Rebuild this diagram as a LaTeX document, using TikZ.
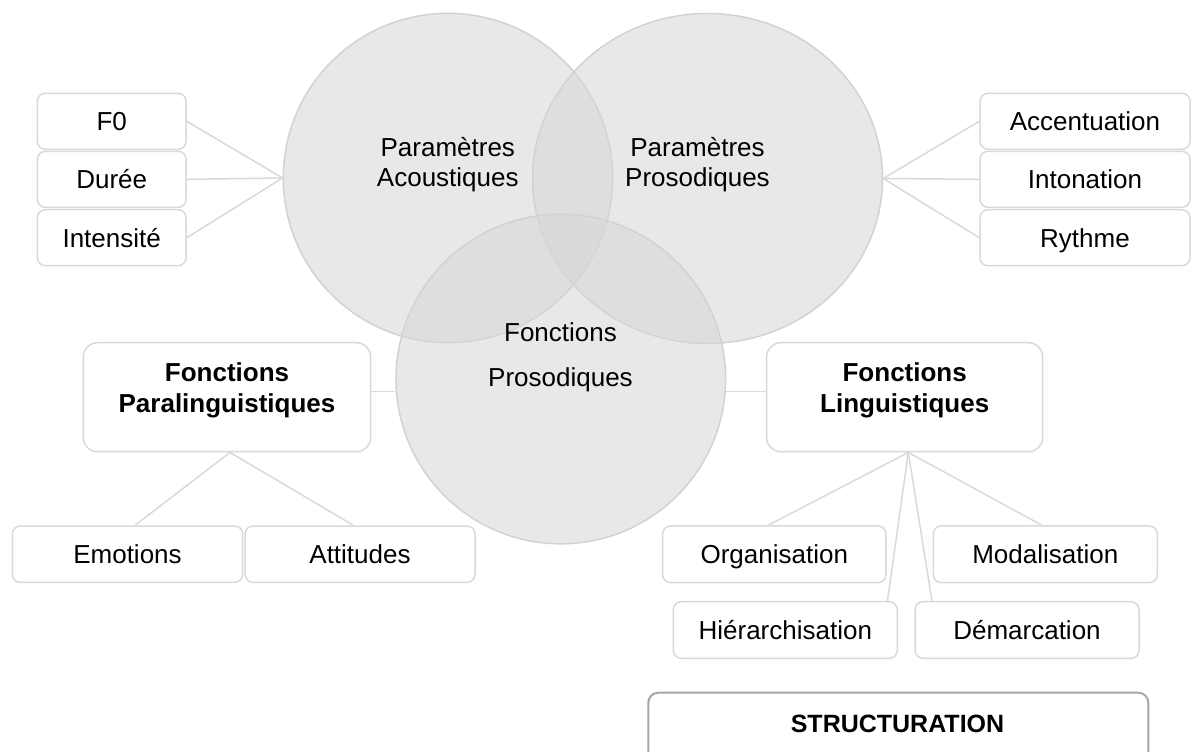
\documentclass[tikz,border=0pt]{standalone}
\usepackage{fontspec}
\setmainfont{Liberation Sans}
\usetikzlibrary{shapes.geometric}
\definecolor{lineg}{HTML}{D9D9D9}
\definecolor{circfill}{HTML}{D6D6D6}
\definecolor{circdraw}{HTML}{D2D2D2}
\definecolor{structg}{HTML}{A6A6A6}
\begin{document}
\begin{tikzpicture}[x=1pt,y=-1pt,
  smallbox/.style={draw=lineg, line width=1.5pt, rounded corners=8pt, minimum height=56pt,
    inner sep=0pt, text height=18.6pt, text depth=0pt, font=\fontsize{26}{30}\selectfont},
  bigbox/.style={draw=lineg, line width=1.5pt, rounded corners=14pt, minimum height=109pt, inner sep=0pt},
  boldtxt/.style={font=\bfseries\fontsize{26}{31}\selectfont, align=center, inner sep=0pt},
  circtxt/.style={font=\fontsize{26}{30.7}\selectfont, align=center, inner sep=0pt},
  conn/.style={draw=lineg, line width=1.5pt},
  venn/.style={fill=circfill, fill opacity=0.55, draw=circdraw, line width=1.5pt, inner sep=0pt},
]
\useasboundingbox (0,0) rectangle (1192,752);

% Venn circles
\node[venn, circle, minimum size=329.4pt] (ac) at (448,178) {};
\node[venn, ellipse, minimum width=350pt, minimum height=330pt] (pp) at (707.5,178.5) {};
\node[venn, circle, minimum size=329.6pt] (fp) at (560.8,379) {};

\node[circtxt] (acl) at (447.8,164.5) {Paramètres\\Acoustiques};
\node[circtxt] (ppl) at (697.5,164.5) {Paramètres\\Prosodiques};
\node[circtxt, font=\fontsize{26}{45}\selectfont] (fpt) at (560.5,357.7) {Fonctions\\Prosodiques};

% left small boxes
\node[smallbox, minimum width=148.7pt] (f0) at (111.7,121.3) {F0};
\node[smallbox, minimum width=148.7pt] (dur) at (111.7,179.3) {Durée};
\node[smallbox, minimum width=148.7pt] (int) at (111.7,237.7) {Intensité};

% right small boxes
\node[smallbox, minimum width=210pt] (acc) at (1085,121.3) {Accentuation};
\node[smallbox, minimum width=210pt] (ton) at (1085,179.3) {Intonation};
\node[smallbox, minimum width=210pt] (ryt) at (1085,237.7) {Rythme};

% big boxes
\node[bigbox, minimum width=287.4pt] (fpl) at (227,397.2) {};
\node[boldtxt] (fplt) at (227,390.7) {Fonctions\\Paralinguistiques};
\node[bigbox, minimum width=276pt] (fl) at (904.7,397.2) {};
\node[boldtxt] (flt) at (904.7,390.7) {Fonctions\\Linguistiques};

% bottom-left boxes
\node[smallbox, minimum width=230.4pt, minimum height=56.3pt] (emo) at (127.5,554.2) {Emotions};
\node[smallbox, minimum width=230pt, minimum height=56.3pt] (att) at (360,554.2) {Attitudes};

% bottom-right boxes
\node[smallbox, minimum width=223.3pt, minimum height=56.7pt] (org) at (774.3,554.3) {Organisation};
\node[smallbox, minimum width=224pt, minimum height=56.7pt] (mod) at (1045.3,554.3) {Modalisation};
\node[smallbox, minimum width=224pt, minimum height=56.6pt] (hie) at (785.3,630) {Hiérarchisation};
\node[smallbox, minimum width=224pt, minimum height=56.6pt] (dem) at (1027,630) {Démarcation};

% connectors
\draw[conn] (f0.east) -- (ac.west);
\draw[conn] (dur.east) -- (ac.west);
\draw[conn] (int.east) -- (ac.west);
\draw[conn] (pp.east) -- (acc.west);
\draw[conn] (pp.east) -- (ton.west);
\draw[conn] (pp.east) -- (ryt.west);

\coordinate (pa) at ([yshift=5.5pt]fpl.east);
\draw[conn] (pa) -- (pa -| fp.west);
\coordinate (la) at ([yshift=5.5pt]fl.west);
\draw[conn] (la) -- (la -| fp.east);

\draw[conn] ([xshift=3pt]fpl.south) -- ([xshift=7.5pt]emo.north);
\draw[conn] ([xshift=3pt]fpl.south) -- ([xshift=-6.7pt]att.north);

\draw[conn] ([xshift=3.6pt]fl.south) -- ([xshift=-6pt]org.north);
\draw[conn] ([xshift=3.6pt]fl.south) -- ([xshift=-10.6pt]hie.north east);
\draw[conn] ([xshift=3.6pt]fl.south) -- ([xshift=17.7pt]dem.north west);
\draw[conn] ([xshift=3.6pt]fl.south) -- ([xshift=-3.6pt]mod.north);

% STRUCTURATION
\draw[draw=structg, line width=2pt, rounded corners=10pt] (648.3,775) -- (648.3,692.7) -- (1148.3,692.7) -- (1148.3,775);
\node[font=\bfseries\fontsize{25}{30}\selectfont, text height=18pt, text depth=0pt, inner sep=0pt] (st) at (897.5,723) {STRUCTURATION};
\end{tikzpicture}
\end{document}
